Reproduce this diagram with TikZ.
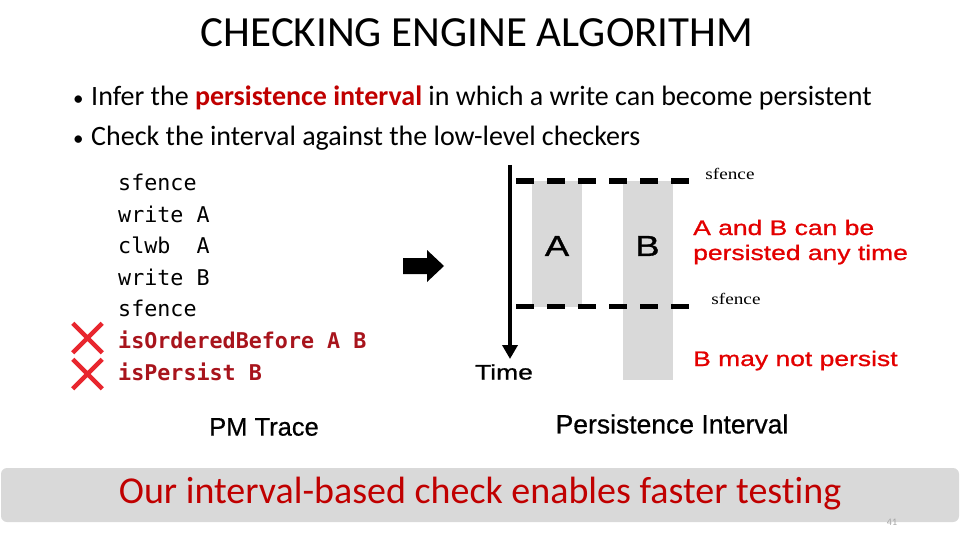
\documentclass[tikz,border=0pt]{standalone}
\usepackage{fontspec}
\setmainfont{Carlito}[Ligatures=NoCommon]
\newfontfamily\arialfont[FakeBold=0.6]{Liberation Sans}
\newfontfamily\widearial[FakeStretch=1.26,FakeBold=1]{Liberation Sans}
\newfontfamily\widetimes[FakeStretch=1.2]{Liberation Serif}
\newfontfamily\codefont{DejaVu Sans Mono}
\usepackage{tikz}
\usetikzlibrary{arrows.meta,positioning,calc,shapes.misc}
\definecolor{slidered}{HTML}{C00000}
\definecolor{codered}{HTML}{A8141C}
\definecolor{notered}{HTML}{E30000}
\definecolor{xred}{HTML}{E8262E}
\definecolor{ivgray}{HTML}{D9D9D9}
\definecolor{pagegray}{HTML}{A6A6A6}
\tikzset{
  % slide
  titletxt/.style={inner sep=0pt,font=\fontsize{43}{48}\selectfont},
  bultxt/.style={anchor=base west,inner sep=0pt,font=\fontsize{28}{32}\selectfont},
  buldot/.style={anchor=base west,inner sep=0pt,font=\fontsize{21}{32}\selectfont},
  codeln/.style={anchor=base west,inner sep=0pt,font=\codefont\fontsize{21.7}{24}\selectfont},
  codebad/.style={codeln,text=codered,font=\codefont\bfseries\fontsize{21.7}{24}\selectfont},
  badmark/.style={cross out,draw=xred,line width=4.5pt,minimum size=25pt,inner sep=0pt},
  captxt/.style={inner sep=0pt,font=\arialfont\fontsize{25.5}{28}\selectfont},
  % diagram
  ivbox/.style={fill=ivgray,draw=none,inner sep=0pt,minimum width=50pt,anchor=north},
  boxlbl/.style={inner sep=0pt,font=\widearial\fontsize{29}{32}\selectfont},
  fenceln/.style={draw=black,line width=5pt,dash pattern=on 18pt off 13pt},
  fencetxt/.style={inner sep=0pt,font=\widetimes\fontsize{16}{18}\selectfont},
  notetxt/.style={anchor=base west,inner sep=0pt,text=notered,
                  font=\widearial\fontsize{21}{24}\selectfont},
  timeax/.style={-{Triangle[length=14pt,width=15pt]},line width=4pt},
  bar/.style={fill=ivgray,draw=none,rounded corners=6pt},
}

\begin{document}
\begin{tikzpicture}[x=1pt,y=-1pt]
\useasboundingbox (0,0) rectangle (960,540);
  % heading
  \node[titletxt] (title) at (477,33) {CHECKING ENGINE ALGORITHM};
  \node[buldot] (dot1) at (73,106) {\textbullet};
  \node[bultxt] (bul1) at (91,106) {Infer the \textcolor{slidered}{\textbf{persistence interval}} in which a write can become persistent};
  \node[buldot] (dot2) at (73,146) {\textbullet};
  \node[bultxt] (bul2) at (91,146) {Check the interval against the low-level checkers};
  % trace
  \node[codeln] (c1) at (118,190) {sfence};
  \node[codeln] (c2) at (118,222) {write A};
  \node[codeln] (c3) at (118,253) {clwb\ \ A};
  \node[codeln] (c4) at (118,285) {write B};
  \node[codeln] (c5) at (118,316) {sfence};
  \node[codebad] (c6) at (118,348) {isOrderedBefore A B};
  \node[codebad] (c7) at (118,380) {isPersist B};
  \node[badmark] (x6) at (87.5,338) {};
  \node[badmark] (x7) at (87.5,374) {};
  \node[captxt] (trace) at (264,427) {PM Trace};
  \fill (403,258) -- (427,258) -- (427,250) -- (444,266)
        -- (427,282) -- (427,274) -- (403,274) -- cycle;
  % interval
  \node[ivbox,minimum height=126pt] (boxA) at (557,181) {};
  \node[ivbox,minimum height=199pt] (boxB) at (647.5,181) {};
  \node[boxlbl] (lblA) at (557,246) {A};
  \node[boxlbl] (lblB) at (647.5,246) {B};
  \coordinate (ft0) at (516,181);
  \coordinate (ft1) at (690,181);
  \coordinate (fb0) at (516,306);
  \coordinate (fb1) at (690,306);
  \draw[fenceln] (ft0) -- (ft1);
  \draw[fenceln] (fb0) -- (fb1);
  \node[fencetxt] (sf1) at (730,174) {sfence};
  \node[fencetxt] (sf2) at (736,299) {sfence};
  \coordinate (t0) at (510,165);
  \coordinate (t1) at (510,359);
  \draw[timeax] (t0) -- (t1);
  \node[inner sep=0pt,font=\widearial\fontsize{21}{24}\selectfont] (time) at (504,372) {Time};
  \node[notetxt] (noteA1) at (693,235) {A and B can be};
  \node[notetxt] (noteA2) at (693,260) {persisted any time};
  \node[notetxt] (noteB) at (693,366) {B may not persist};
  \node[captxt,font=\arialfont\fontsize{26.5}{28}\selectfont] (ivcap) at (672,424) {Persistence Interval};
  % takeaway
  \node[bar,minimum width=958pt,minimum height=54pt] (barbox) at (480,495) {};
  \node[inner sep=0pt,text=slidered,font=\fontsize{38}{40}\selectfont] (take) at (480,494) {Our interval-based check enables faster testing};
  \node[inner sep=0pt,text=pagegray,font=\fontsize{10}{12}\selectfont] (pg) at (892,522) {41};
\end{tikzpicture}
\end{document}
